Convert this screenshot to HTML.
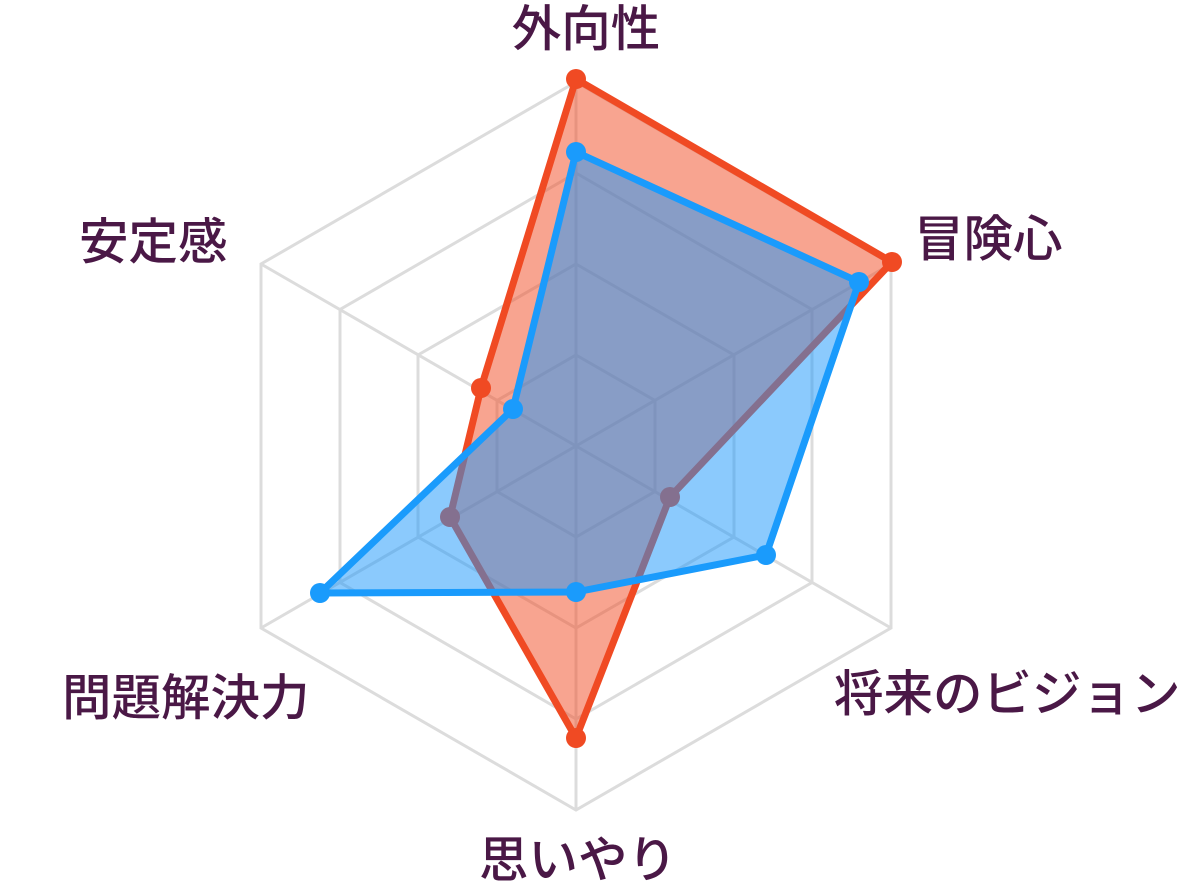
<!DOCTYPE html>
<html><head><meta charset="utf-8"><style>
html,body{margin:0;padding:0;background:#fff;}
text{font-family:"Liberation Sans","Noto Sans CJK JP",sans-serif;font-size:49.5px;font-weight:500;fill:#4a1846;}
</style></head><body>
<svg width="1192" height="891" viewBox="0 0 1192 891" xmlns="http://www.w3.org/2000/svg">
<g fill="none" stroke="#dcdcdc" stroke-width="3">
<polygon points="576,82 891,264 891,628 576,810 261,628 261,264"/>
<polygon points="576,173 812,309.5 812,582.5 576,719 340,582.5 340,309.5"/>
<polygon points="576,264 734,355 734,537 576,628 418,537 418,355"/>
<polygon points="576,355 655,400.5 655,491.5 576,537 497,491.5 497,400.5"/>
<line x1="576" y1="446" x2="576" y2="82"/>
<line x1="576" y1="446" x2="891" y2="264"/>
<line x1="576" y1="446" x2="891" y2="628"/>
<line x1="576" y1="446" x2="576" y2="810"/>
<line x1="576" y1="446" x2="261" y2="628"/>
<line x1="576" y1="446" x2="261" y2="264"/>
</g>
<polygon points="576,79 892,262 670,497 576,738 450,517 481,388" fill="rgba(242,74,34,0.5)" stroke="#f04a23" stroke-width="7" stroke-linejoin="round"/>
<g fill="#f04a23"><circle cx="576" cy="79" r="10"/><circle cx="892" cy="262" r="10"/><circle cx="670" cy="497" r="10"/><circle cx="576" cy="738" r="10"/><circle cx="450" cy="517" r="10"/><circle cx="481" cy="388" r="10"/></g>
<polygon points="576,152 859,282 766,555 576,592 320,593 513,409" fill="rgba(24,150,252,0.5)" stroke="#1a9bfc" stroke-width="7" stroke-linejoin="round"/>
<g fill="#1a9bfc"><circle cx="576" cy="152" r="10"/><circle cx="859" cy="282" r="10"/><circle cx="766" cy="555" r="10"/><circle cx="576" cy="592" r="10"/><circle cx="320" cy="593" r="10"/><circle cx="513" cy="409" r="10"/></g>
<text x="586" y="46" text-anchor="middle">外向性</text>
<text x="914" y="256">冒険心</text>
<text x="834" y="711">将来のビジョン</text>
<text x="578" y="877" text-anchor="middle">思いやり</text>
<text x="62" y="715">問題解決力</text>
<text x="79" y="259">安定感</text>
</svg>
</body></html>
